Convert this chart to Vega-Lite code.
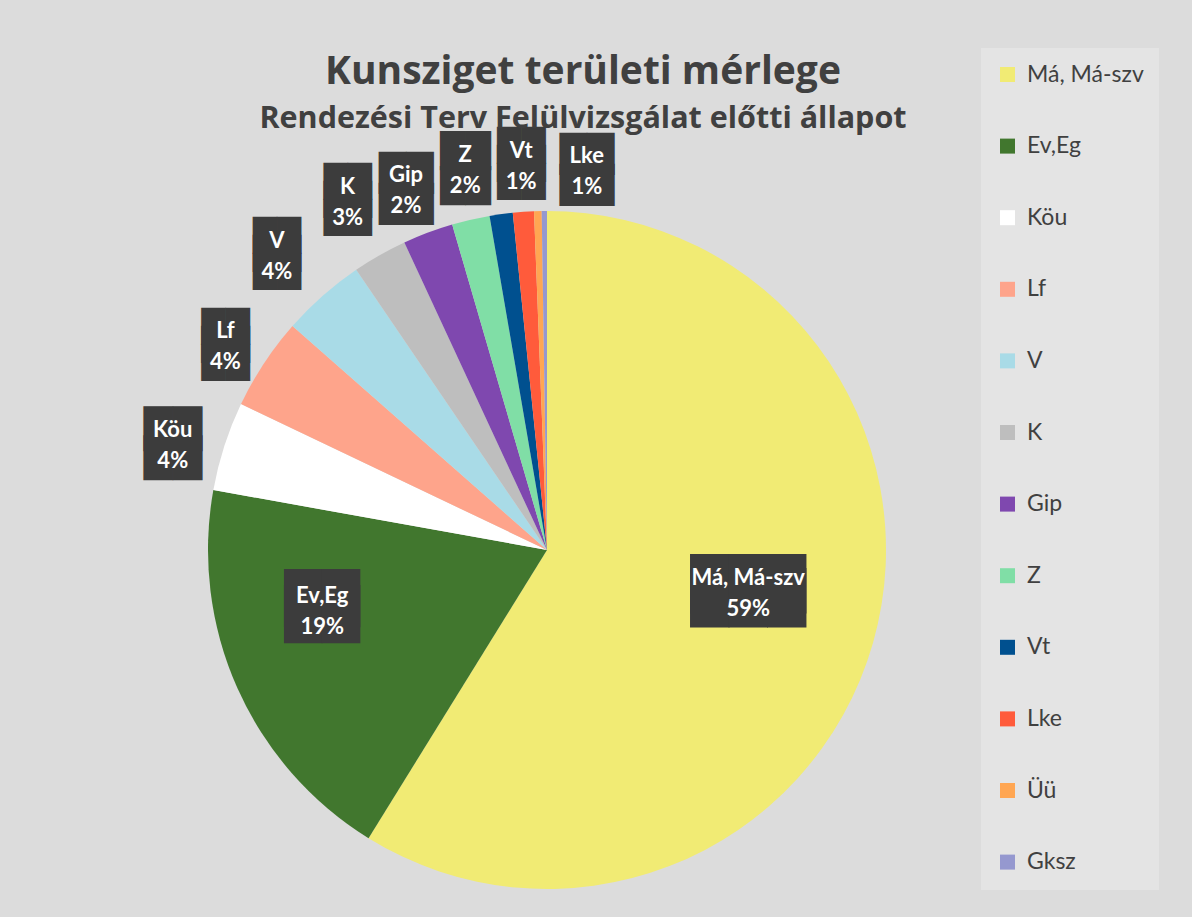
{
  "$schema": "https://vega.github.io/schema/vega-lite/v6.json",
  "width": 1094,
  "height": 734,
  "autosize": {"type": "none"},
  "padding": {"left": 0, "top": 183, "right": 98, "bottom": 0},
  "background": "#dcdcdc",
  "config": {"view": {"stroke": null}, "font": "Lato"},
  "title": {
    "text": "Kunsziget területi mérlege",
    "subtitle": "Rendezési Terv Felülvizsgálat előtti állapot",
    "fontSize": 39,
    "subtitleFontSize": 30.5,
    "fontWeight": "bold",
    "subtitleFontWeight": "bold",
    "color": "#404040",
    "subtitleColor": "#404040",
    "font": "Open Sans",
    "subtitleFont": "Open Sans",
    "anchor": "middle",
    "frame": "group",
    "dx": 36,
    "offset": -86,
    "subtitlePadding": 12
  },
  "data": {
    "values": [
      {"idx": 1, "cat": "Má, Má-szv", "value": 58.8},
      {"idx": 2, "cat": "Ev,Eg", "value": 19.0},
      {"idx": 3, "cat": "Köu", "value": 4.25},
      {"idx": 4, "cat": "Lf", "value": 4.4},
      {"idx": 5, "cat": "V", "value": 4.0},
      {"idx": 6, "cat": "K", "value": 2.6},
      {"idx": 7, "cat": "Gip", "value": 2.4},
      {"idx": 8, "cat": "Z", "value": 1.8},
      {"idx": 9, "cat": "Vt", "value": 1.1},
      {"idx": 10, "cat": "Lke", "value": 1.0},
      {"idx": 11, "cat": "Üü", "value": 0.36},
      {"idx": 12, "cat": "Gksz", "value": 0.25}
    ]
  },
  "transform": [
    {"stack": "value", "groupby": [], "sort": [{"field": "idx", "order": "ascending"}], "offset": "normalize", "as": ["v0", "v1"]},
    {"calculate": "(datum.v0 + datum.v1) / 2", "as": "mid"},
    {"calculate": "[datum.cat, format(datum.v1 - datum.v0, '.0%')]", "as": "label"}
  ],
  "layer": [
    {
      "mark": {"type": "arc", "outerRadius": 339},
      "encoding": {
        "theta": {"field": "v0", "type": "quantitative", "scale": {"domain": [0, 1]}},
        "theta2": {"field": "v1"},
        "color": {
          "field": "cat",
          "type": "nominal",
          "scale": {
            "domain": ["Má, Má-szv", "Ev,Eg", "Köu", "Lf", "V", "K", "Gip", "Z", "Vt", "Lke", "Üü", "Gksz"],
            "range": ["#F1EB74", "#41772E", "#FFFFFF", "#FEA48B", "#A9DBE7", "#BEBEBE", "#7F48AF", "#80DEA6", "#00508F", "#FF5B3B", "#FFA652", "#9598CF"]
          },
          "legend": {
            "orient": "none",
            "legendX": 981,
            "legendY": -135,
            "title": null,
            "symbolType": "square",
            "symbolSize": 225,
            "symbolStrokeWidth": 0,
            "labelFontSize": 23,
            "labelFont": "Lato",
            "labelColor": "#404040",
            "labelOffset": 8,
            "rowPadding": 47.6,
            "padding": 15,
            "fillColor": "#e4e4e4",
            "labelLimit": 300
          }
        }
      }
    },
    {
      "transform": [{"filter": {"field": "cat", "equal": "Köu"}}],
      "encoding": {"theta": {"field": "mid", "type": "quantitative"}},
      "layer": [
        {"mark": {"type": "text", "radius": 390, "dx": -3, "dy": 1, "font": "DejaVu Sans", "fontSize": 38, "lineHeight": 28.5, "color": "#3c3c3c", "align": "center", "baseline": "middle", "text": ["██", "██"]}},
        {"mark": {"type": "text", "radius": 390, "dx": -3, "dy": 0, "font": "Lato", "fontWeight": "bold", "fontSize": 22, "lineHeight": 31, "color": "#ffffff", "align": "center", "baseline": "middle"}, "encoding": {"text": {"field": "label"}}}
      ]
    },
    {
      "transform": [{"filter": {"field": "cat", "equal": "Lf"}}],
      "encoding": {"theta": {"field": "mid", "type": "quantitative"}},
      "layer": [
        {"mark": {"type": "text", "radius": 390, "dx": 4, "dy": -7.6, "font": "DejaVu Sans", "fontSize": 31.4, "lineHeight": 18.15, "color": "#3c3c3c", "align": "center", "baseline": "middle", "text": ["██", "██", "██"]}},
        {"mark": {"type": "text", "radius": 390, "dx": 4, "dy": -4, "font": "Lato", "fontWeight": "bold", "fontSize": 22, "lineHeight": 31, "color": "#ffffff", "align": "center", "baseline": "middle"}, "encoding": {"text": {"field": "label"}}}
      ]
    },
    {
      "transform": [{"filter": {"field": "cat", "equal": "V"}}],
      "encoding": {"theta": {"field": "mid", "type": "quantitative"}},
      "layer": [
        {"mark": {"type": "text", "radius": 390, "dx": -12, "dy": -20.6, "font": "DejaVu Sans", "fontSize": 31.4, "lineHeight": 18.15, "color": "#3c3c3c", "align": "center", "baseline": "middle", "text": ["██", "██", "██"]}},
        {"mark": {"type": "text", "radius": 390, "dx": -12, "dy": -17, "font": "Lato", "fontWeight": "bold", "fontSize": 22, "lineHeight": 31, "color": "#ffffff", "align": "center", "baseline": "middle"}, "encoding": {"text": {"field": "label"}}}
      ]
    },
    {
      "transform": [{"filter": {"field": "cat", "equal": "K"}}],
      "encoding": {"theta": {"field": "mid", "type": "quantitative"}},
      "layer": [
        {"mark": {"type": "text", "radius": 390, "dx": -7, "dy": -27.6, "font": "DejaVu Sans", "fontSize": 31.4, "lineHeight": 18.15, "color": "#3c3c3c", "align": "center", "baseline": "middle", "text": ["██", "██", "██"]}},
        {"mark": {"type": "text", "radius": 390, "dx": -7, "dy": -24, "font": "Lato", "fontWeight": "bold", "fontSize": 22, "lineHeight": 31, "color": "#ffffff", "align": "center", "baseline": "middle"}, "encoding": {"text": {"field": "label"}}}
      ]
    },
    {
      "transform": [{"filter": {"field": "cat", "equal": "Gip"}}],
      "encoding": {"theta": {"field": "mid", "type": "quantitative"}},
      "layer": [
        {"mark": {"type": "text", "radius": 390, "dx": -4, "dy": -11, "font": "DejaVu Sans", "fontSize": 35.6, "lineHeight": 31.3, "color": "#3c3c3c", "align": "center", "baseline": "middle", "text": ["██", "██"]}},
        {"mark": {"type": "text", "radius": 390, "dx": -4, "dy": -10, "font": "Lato", "fontWeight": "bold", "fontSize": 22, "lineHeight": 31, "color": "#ffffff", "align": "center", "baseline": "middle"}, "encoding": {"text": {"field": "label"}}}
      ]
    },
    {
      "transform": [{"filter": {"field": "cat", "equal": "Z"}}],
      "encoding": {"theta": {"field": "mid", "type": "quantitative"}},
      "layer": [
        {"mark": {"type": "text", "radius": 390, "dx": 6, "dy": -17.6, "font": "DejaVu Sans", "fontSize": 33, "lineHeight": 34.4, "color": "#3c3c3c", "align": "center", "baseline": "middle", "text": ["██", "██"]}},
        {"mark": {"type": "text", "radius": 390, "dx": 6, "dy": -15, "font": "Lato", "fontWeight": "bold", "fontSize": 22, "lineHeight": 31, "color": "#ffffff", "align": "center", "baseline": "middle"}, "encoding": {"text": {"field": "label"}}}
      ]
    },
    {
      "transform": [{"filter": {"field": "cat", "equal": "Vt"}}],
      "encoding": {"theta": {"field": "mid", "type": "quantitative"}},
      "layer": [
        {"mark": {"type": "text", "radius": 390, "dx": 27, "dy": -16.6, "font": "DejaVu Sans", "fontSize": 31.4, "lineHeight": 18.15, "color": "#3c3c3c", "align": "center", "baseline": "middle", "text": ["██", "██", "██"]}},
        {"mark": {"type": "text", "radius": 390, "dx": 27, "dy": -13, "font": "Lato", "fontWeight": "bold", "fontSize": 22, "lineHeight": 31, "color": "#ffffff", "align": "center", "baseline": "middle"}, "encoding": {"text": {"field": "label"}}}
      ]
    },
    {
      "transform": [{"filter": {"field": "cat", "equal": "Lke"}}],
      "encoding": {"theta": {"field": "mid", "type": "quantitative"}},
      "layer": [
        {"mark": {"type": "text", "radius": 390, "dx": 67, "dy": -6, "font": "DejaVu Sans", "fontSize": 35.6, "lineHeight": 31.3, "color": "#3c3c3c", "align": "center", "baseline": "middle", "text": ["██", "██"]}},
        {"mark": {"type": "text", "radius": 390, "dx": 67, "dy": -5, "font": "Lato", "fontWeight": "bold", "fontSize": 22, "lineHeight": 31, "color": "#ffffff", "align": "center", "baseline": "middle"}, "encoding": {"text": {"field": "label"}}}
      ]
    },
    {
      "transform": [{"filter": {"field": "cat", "equal": "Má, Má-szv"}}],
      "encoding": {"theta": {"field": "mid", "type": "quantitative"}},
      "layer": [
        {"mark": {"type": "text", "radius": 205, "dx": 4, "dy": -20.4, "font": "DejaVu Sans", "fontSize": 50, "lineHeight": 14.5, "color": "#3c3c3c", "align": "center", "baseline": "middle", "text": ["███", "███"]}},
        {"mark": {"type": "text", "radius": 205, "dx": 4, "dy": -28, "font": "Lato", "fontWeight": "bold", "fontSize": 22, "lineHeight": 31, "color": "#ffffff", "align": "center", "baseline": "middle"}, "encoding": {"text": {"field": "label"}}}
      ]
    },
    {
      "transform": [{"filter": {"field": "cat", "equal": "Ev,Eg"}}],
      "encoding": {"theta": {"field": "mid", "type": "quantitative"}},
      "layer": [
        {"mark": {"type": "text", "radius": 233, "dx": -12, "dy": -44.5, "font": "DejaVu Sans", "fontSize": 49, "lineHeight": 15.7, "color": "#3c3c3c", "align": "center", "baseline": "middle", "text": ["██", "██"]}},
        {"mark": {"type": "text", "radius": 233, "dx": -12, "dy": -49, "font": "Lato", "fontWeight": "bold", "fontSize": 22, "lineHeight": 31, "color": "#ffffff", "align": "center", "baseline": "middle"}, "encoding": {"text": {"field": "label"}}}
      ]
    }
  ]
}
